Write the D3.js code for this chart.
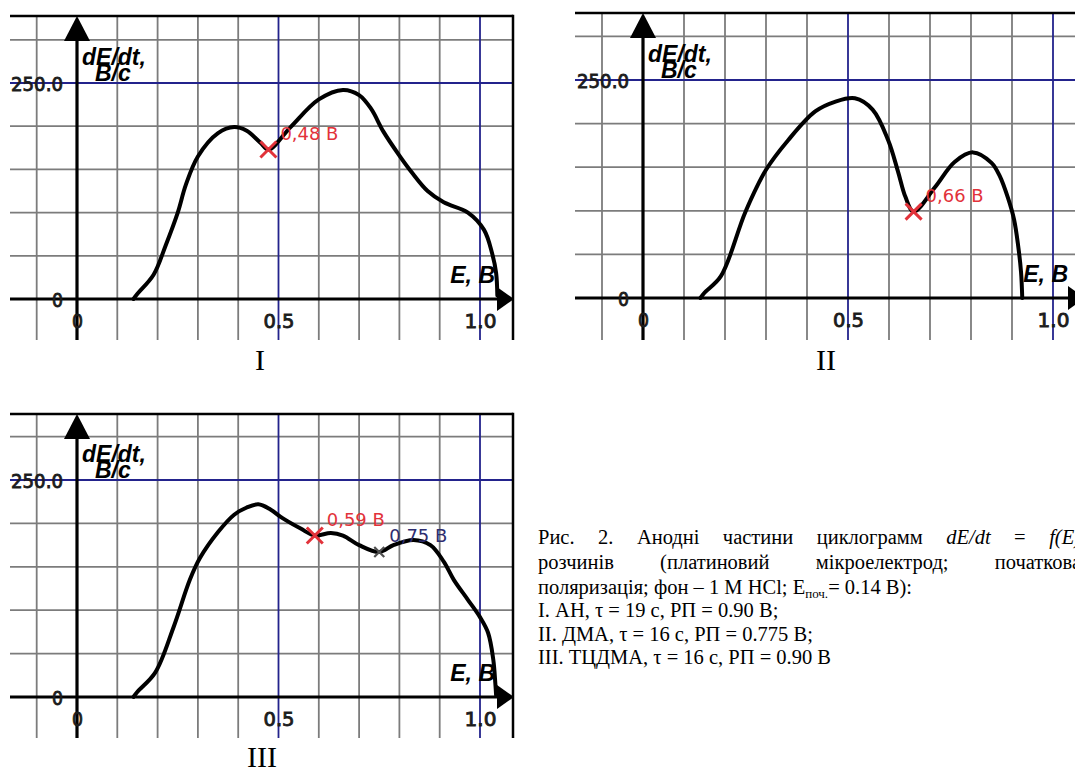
<!DOCTYPE html>
<html><head><meta charset="utf-8">
<script src="https://cdn.jsdelivr.net/npm/d3@7"></script>
<style>body{margin:0;background:#fff;} svg{display:block;}</style>
</head><body>
<svg id="c" width="1075" height="774"></svg>
<script>
// ---------------- DATA ----------------
const gridE = [-0.1, 0, 0.1, 0.2, 0.3, 0.4, 0.5, 0.6, 0.7, 0.8, 0.9, 1.0, 1.1];
const gridV = [0, 50, 100, 150, 200, 250, 300];
const blueE = [0.5, 1.0];
const blueV = [250];
const xTickValues = [0, 0.5, 1.0];
const xTickLabels = ["0", "0.5", "1.0"];
const yTickValues = [0, 250];
const yTickLabels = ["0", "250.0"];
const yAxisTitle = ["dE/dt,", "В/с"];
const xAxisTitle = "E, В";
const panelNames = ["I", "II", "III"];

// curve I: АН  [E (V), dE/dt (V/s)]
const curveI = [[0.14,0],[0.15,6],[0.19,28],[0.22,62],[0.25,100],[0.27,132],[0.30,165],[0.35,192],
  [0.39,199],[0.42,195],[0.455,181],[0.475,173],[0.53,199],[0.60,231],[0.66,242],[0.70,236],
  [0.73,220],[0.76,194],[0.80,166],[0.83,147],[0.87,125],[0.91,112],[0.97,100],[1.01,80],[1.03,53],[1.04,30],[1.043,4]];
// curve II: ДМА
const curveII = [[0.14,0],[0.15,6],[0.19,25],[0.25,99],[0.30,147],[0.354,181],[0.42,214],[0.468,225],
  [0.517,229],[0.56,216],[0.598,181],[0.622,145],[0.64,116],[0.66,99],[0.712,127],[0.76,156],
  [0.805,167],[0.85,155],[0.87,140],[0.89,115],[0.905,90],[0.915,60],[0.922,30],[0.925,0]];
// curve III: ТЦДМА
const curveIII = [[0.14,0],[0.15,6],[0.194,28],[0.24,81],[0.28,135],[0.305,160],[0.35,190],[0.39,210],
  [0.42,218],[0.45,222],[0.48,216],[0.51,206],[0.555,194],[0.59,186],[0.63,189],[0.66,186],[0.70,175],
  [0.75,167],[0.785,175],[0.835,181],[0.877,175],[0.91,156],[0.935,135],[0.97,112],[1.0,92],[1.02,74],
  [1.033,43],[1.038,16],[1.04,2]];
const curves = [curveI, curveII, curveIII];

// marked points
const markE = [[0.475], [0.66], [0.59, 0.75]];
const markV = [[173], [99], [186, 167]];
const markLabels = [["0,48 В"], ["0,66 В"], ["0,59 В", "0,75 В"]];
const markKind = [["red"], ["red"], ["red", "small"]];

// caption lines
const caption = [
  [["Рис. 2. Анодні частини циклограмм ", "n"], ["dE/dt", "i"], [" = ", "n"], ["f(E", "i"], [")", "i"]],
  [["розчинів (платиновий мікроелектрод; початкова", "n"]],
  [["поляризація; фон – 1 М HCl; E", "n"], ["поч.", "sub"], ["= 0.14 В):", "n"]],
  [["I. АН, τ = 19 с, РП = 0.90 В;", "n"]],
  [["II. ДМА, τ = 16 с, РП = 0.775 В;", "n"]],
  [["III. ТЦДМА, τ = 16 с, РП = 0.90 В", "n"]]
];

// ---------------- LAYOUT ----------------
const layout = [
  {left: 10, right: 513, top: 16, bottom: 340, x0: 77, x1: 480, y0: 299, y250: 83, border: true, arrowTip: 514, numX: 260, numY: 370},
  {left: 575, right: 1075, top: 13, bottom: 340, x0: 643, x1: 1053, y0: 298, y250: 80, border: false, arrowTip: 1085, numX: 826, numY: 370},
  {left: 10, right: 513, top: 414, bottom: 738, x0: 77, x1: 480, y0: 697, y250: 480, border: true, arrowTip: 514, numX: 262, numY: 767}
];
const capX = 538, capY = [544, 569, 594, 617, 641, 664], capJustifyTo = [1081, 1081], capSize = 20.5;

const svg = d3.select("#c");
svg.append("rect").attr("width", 1075).attr("height", 774).attr("fill", "#fff");
const defs = svg.append("defs");

const GRAY = "#7c7c7c", BLUE = "#23238c", RED = "#e2323a", NAVY = "#2d2d70";
const tickFont = "'DejaVu Sans', sans-serif";
const titleFont = "'Liberation Sans', Arial, sans-serif";
const tickLen = {"0": 11, "0.5": 31, "1.0": 32, "250.0": 52};

layout.forEach((p, i) => {
  const x = d3.scaleLinear().domain([0, 1]).range([p.x0, p.x1]);
  const y = d3.scaleLinear().domain([0, 250]).range([p.y0, p.y250]);
  const clipId = "clip" + i;
  defs.append("clipPath").attr("id", clipId).append("rect")
    .attr("x", p.left).attr("y", p.top).attr("width", p.right - p.left).attr("height", p.bottom - p.top);
  const g = svg.append("g");
  const gc = g.append("g").attr("clip-path", `url(#${clipId})`);

  const inX = e => x(e) >= p.left - 1 && x(e) <= p.right + 1;
  const inY = v => y(v) >= p.top - 1 && y(v) <= p.bottom + 1;

  // gray grid
  gc.selectAll(".gv").data(gridE.filter(e => inX(e) && e !== 0 && !blueE.includes(e))).join("line")
    .attr("x1", d => x(d)).attr("x2", d => x(d)).attr("y1", p.top).attr("y2", p.bottom)
    .attr("stroke", GRAY).attr("stroke-width", 1.8);
  gc.selectAll(".gh").data(gridV.filter(v => inY(v) && v !== 0 && !blueV.includes(v))).join("line")
    .attr("y1", d => y(d)).attr("y2", d => y(d)).attr("x1", p.left).attr("x2", p.right)
    .attr("stroke", GRAY).attr("stroke-width", 1.8);
  // blue grid
  gc.selectAll(".bv").data(blueE).join("line")
    .attr("x1", d => x(d)).attr("x2", d => x(d)).attr("y1", p.top).attr("y2", p.bottom)
    .attr("stroke", BLUE).attr("stroke-width", 1.8);
  gc.selectAll(".bh").data(blueV).join("line")
    .attr("y1", d => y(d)).attr("y2", d => y(d)).attr("x1", p.left).attr("x2", p.right)
    .attr("stroke", BLUE).attr("stroke-width", 1.8);

  // borders
  g.append("line").attr("x1", p.left).attr("x2", p.right).attr("y1", p.top).attr("y2", p.top)
    .attr("stroke", "#000").attr("stroke-width", 2.5);
  if (p.border) g.append("line").attr("x1", p.right).attr("x2", p.right).attr("y1", p.top - 1.2).attr("y2", p.bottom)
    .attr("stroke", "#000").attr("stroke-width", 2.5);

  // axes lines
  const xa = x(0), ya = y(0);
  gc.append("line").attr("x1", p.left).attr("x2", p.arrowTip - 12).attr("y1", ya).attr("y2", ya)
    .attr("stroke", "#000").attr("stroke-width", 3.2);
  gc.append("line").attr("x1", xa).attr("x2", xa).attr("y1", p.bottom).attr("y2", p.top + 20)
    .attr("stroke", "#000").attr("stroke-width", 3.2);
  // arrows
  g.append("path").attr("d", `M${p.arrowTip},${ya} L${p.arrowTip - 17},${ya - 12} L${p.arrowTip - 17},${ya + 12} Z`).attr("fill", "#000");
  g.append("path").attr("d", `M${xa},${p.top} L${xa - 13},${p.top + 25} L${xa + 13},${p.top + 25} Z`).attr("fill", "#000");

  // curve
  const line = d3.line().x(d => x(d[0])).y(d => y(d[1])).curve(d3.curveCatmullRom.alpha(0.5));
  gc.append("path").datum(curves[i]).attr("d", line)
    .attr("fill", "none").attr("stroke", "#000").attr("stroke-width", 4)
    .attr("stroke-linecap", "round").attr("stroke-linejoin", "round");

  // tick labels via d3 axes
  const axB = g.append("g").attr("transform", `translate(0,${ya})`)
    .call(d3.axisBottom(x).tickValues(xTickValues).tickFormat((d, k) => xTickLabels[k]).tickSize(0).tickPadding(15));
  const axL = g.append("g").attr("transform", `translate(${xa},0)`)
    .call(d3.axisLeft(y).tickValues(yTickValues).tickFormat((d, k) => yTickLabels[k]).tickSize(0).tickPadding(14));
  [axB, axL].forEach(ax => {
    ax.select(".domain").remove();
    ax.selectAll("text").attr("font-family", tickFont).attr("font-size", 20).attr("fill", "#1c1c1c")
      .attr("stroke", "#1c1c1c").attr("stroke-width", 0.9)
      .attr("textLength", function() { return tickLen[this.textContent] || null; })
      .attr("lengthAdjust", "spacingAndGlyphs");
  });
  axL.selectAll("text").attr("dy", "0.36em");

  // axis titles
  g.append("text").attr("x", xa + 5).attr("y", y(250) - 18).text(yAxisTitle[0])
    .attr("font-family", titleFont).attr("font-style", "italic").attr("font-weight", "bold").attr("font-size", 23);
  g.append("text").attr("x", xa + 18).attr("y", y(250) - 2).text(yAxisTitle[1])
    .attr("font-family", titleFont).attr("font-style", "italic").attr("font-weight", "bold").attr("font-size", 23);
  g.append("text").attr("x", x(1) + 15).attr("y", ya - 16).attr("text-anchor", "end").text(xAxisTitle)
    .attr("font-family", titleFont).attr("font-style", "italic").attr("font-weight", "bold").attr("font-size", 23);

  // markers
  markE[i].forEach((e, k) => {
    const cx = x(e), cy = y(markV[i][k]);
    const big = markKind[i][k] === "red";
    const s = big ? 8 : 5;
    const col = big ? RED : "#505050";
    g.append("path").attr("d", `M${cx - s},${cy - s} L${cx + s},${cy + s} M${cx - s},${cy + s} L${cx + s},${cy - s}`)
      .attr("stroke", col).attr("stroke-width", big ? 3 : 2.2).attr("fill", "none");
    const t = g.append("text").text(markLabels[i][k])
      .attr("font-family", tickFont).attr("font-size", 18)
      .attr("fill", big ? RED : NAVY)
      .attr("textLength", 58).attr("lengthAdjust", "spacingAndGlyphs");
    if (big) t.attr("x", cx + 12).attr("y", cy - 10);
    else t.attr("x", cx + 10).attr("y", cy - 10);
  });

  // roman numeral
  svg.append("text").attr("x", p.numX).attr("y", p.numY).attr("text-anchor", "middle").text(panelNames[i])
    .attr("font-family", "'Liberation Serif', 'Times New Roman', serif").attr("font-size", 30).attr("fill", "#000");
});

// caption (first two lines justified, as in the source document)
caption.forEach((ln, j) => {
  const t = svg.append("text").attr("x", capX).attr("y", capY[j])
    .attr("font-family", "'Liberation Serif', 'Times New Roman', serif").attr("font-size", capSize).attr("fill", "#000");
  ln.forEach(([s, k]) => {
    const ts = t.append("tspan").text(s);
    if (k === "i") ts.attr("font-style", "italic");
    if (k === "sub") ts.attr("font-size", 13).attr("dy", 4);
    if (k === "n" && j === 2 && s.startsWith("=")) ts.attr("dy", -4);
  });
  if (j < capJustifyTo.length) {
    const w = t.node().getComputedTextLength();
    const spaces = ln.map(d => d[0]).join("").split(" ").length - 1;
    const extra = (capJustifyTo[j] - capX - w) / spaces;
    if (extra > 0) t.attr("word-spacing", extra);
  }
});
</script>
</body></html>
